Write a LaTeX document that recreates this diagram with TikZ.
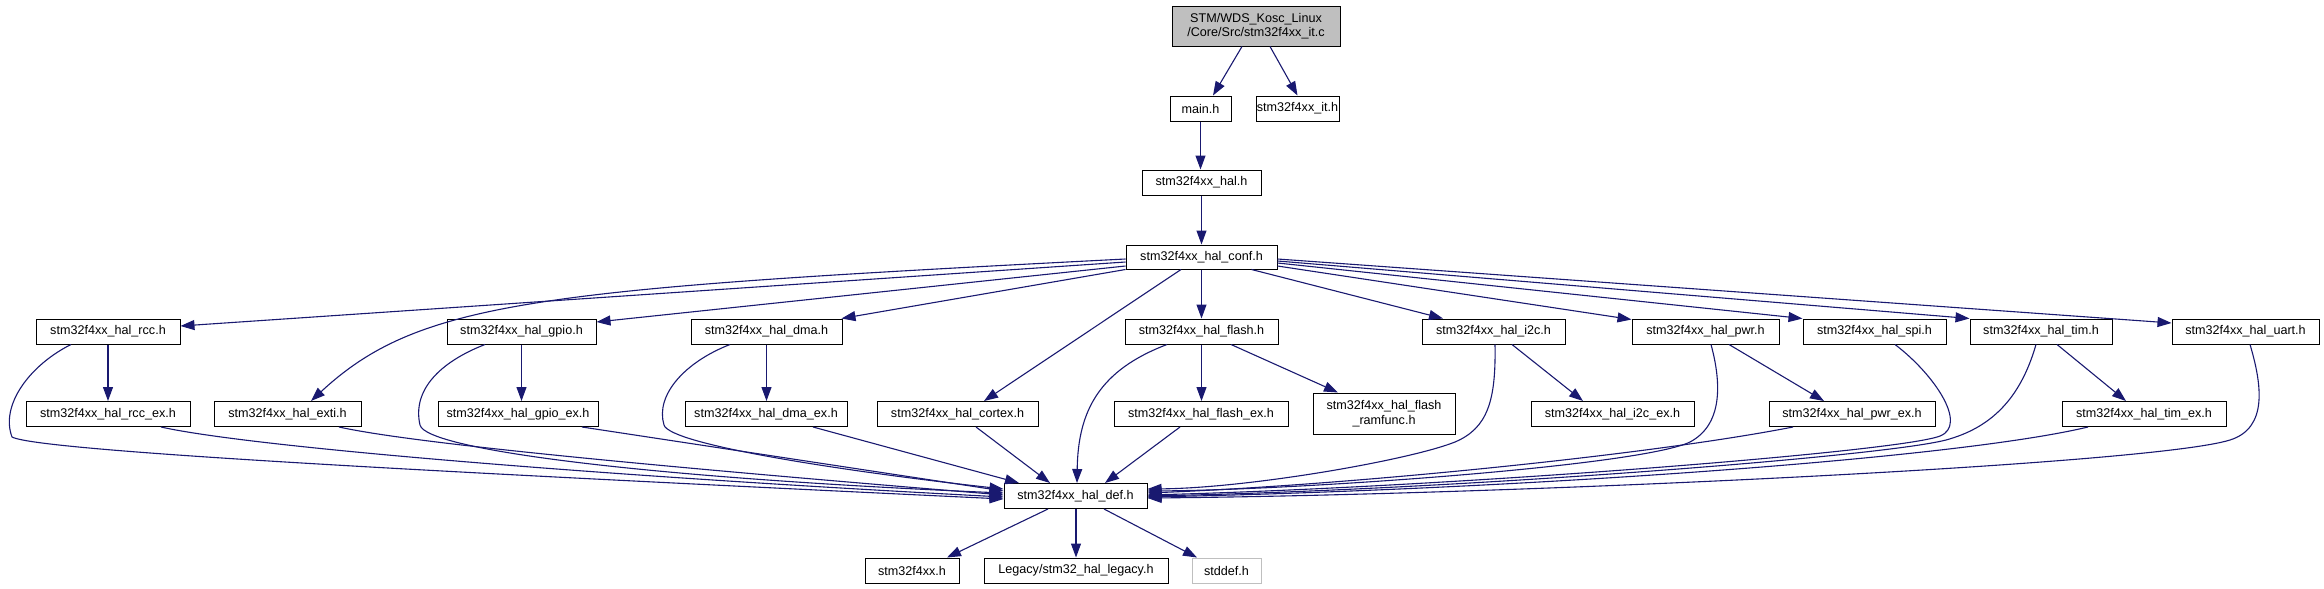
\documentclass[tikz,border=0pt]{standalone}
\usepackage{fontspec}
\setmainfont{Liberation Sans}
\usetikzlibrary{arrows.meta,calc}
\definecolor{edgec}{HTML}{191970}
\definecolor{graybg}{HTML}{BFBFBF}
\begin{document}
\begin{tikzpicture}[x=1pt,y=-1pt,
 box/.style={draw=black,fill=white,line width=1pt,minimum height=25pt,inner sep=0pt,font=\fontsize{12.6}{14.5}\selectfont,align=center},
 lnk/.style={draw=edgec,line width=1.1pt,-{Triangle[length=14pt,width=10pt]}}]
\useasboundingbox (0,0) rectangle (2324,589);
% nodes
\node[box,fill=graybg,minimum width=168pt,minimum height=40pt] (root) at (1256,26) {STM/WDS\_Kosc\_Linux\\/Core/Src/stm32f4xx\_it.c};
\node[box,minimum width=61pt] (main) at (1200.5,108.5) {main.h};
\node[box,minimum width=83pt] (it) at (1297.5,108.5) {stm32f4xx\_it.h};
\node[box,minimum width=119pt] (hal) at (1201.5,182.5) {stm32f4xx\_hal.h};
\node[box,minimum width=151pt,minimum height=24pt] (conf) at (1201.5,257) {stm32f4xx\_hal\_conf.h};
\node[box,minimum width=144pt] (rcc) at (108,331.5) {stm32f4xx\_hal\_rcc.h};
\node[box,minimum width=149pt] (gpio) at (521.5,331.5) {stm32f4xx\_hal\_gpio.h};
\node[box,minimum width=151pt] (dma) at (766.5,331.5) {stm32f4xx\_hal\_dma.h};
\node[box,minimum width=153pt] (flash) at (1201.5,331.5) {stm32f4xx\_hal\_flash.h};
\node[box,minimum width=143pt] (i2c) at (1493.5,331.5) {stm32f4xx\_hal\_i2c.h};
\node[box,minimum width=147pt] (pwr) at (1705.5,331.5) {stm32f4xx\_hal\_pwr.h};
\node[box,minimum width=143pt] (spi) at (1874.5,331.5) {stm32f4xx\_hal\_spi.h};
\node[box,minimum width=142pt] (tim) at (2041,331.5) {stm32f4xx\_hal\_tim.h};
\node[box,minimum width=147pt] (uart) at (2245.5,331.5) {stm32f4xx\_hal\_uart.h};
\node[box,minimum width=164pt] (rccex) at (108,414) {stm32f4xx\_hal\_rcc\_ex.h};
\node[box,minimum width=147pt] (exti) at (287.5,414) {stm32f4xx\_hal\_exti.h};
\node[box,minimum width=160pt] (gpioex) at (518,414) {stm32f4xx\_hal\_gpio\_ex.h};
\node[box,minimum width=162pt] (dmaex) at (766,414) {stm32f4xx\_hal\_dma\_ex.h};
\node[box,minimum width=161pt] (cortex) at (957.5,414) {stm32f4xx\_hal\_cortex.h};
\node[box,minimum width=174pt] (flashex) at (1201,414) {stm32f4xx\_hal\_flash\_ex.h};
\node[box,minimum width=142pt,minimum height=41pt] (ramfunc) at (1384,413.5) {stm32f4xx\_hal\_flash\\\_ramfunc.h};
\node[box,minimum width=163pt] (i2cex) at (1612.5,414) {stm32f4xx\_hal\_i2c\_ex.h};
\node[box,minimum width=166pt] (pwrex) at (1852,414) {stm32f4xx\_hal\_pwr\_ex.h};
\node[box,minimum width=164pt] (timex) at (2144,414) {stm32f4xx\_hal\_tim\_ex.h};
\node[box,minimum width=143pt] (def) at (1075.5,496) {stm32f4xx\_hal\_def.h};
\node[box,minimum width=94pt] (f4) at (912,570.5) {stm32f4xx.h};
\node[box,minimum width=184pt] (legacy) at (1076,570.5) {Legacy/stm32\_hal\_legacy.h};
\node[box,draw=graybg,minimum width=69pt] (stddef) at (1226.5,570.5) {stddef.h};
% top edges
\draw[lnk] ($(root.south)+(-14,0)$) -- ($(main.north)+(12.5,0)$);
\draw[lnk] ($(root.south)+(14,0)$) -- (it.north);
\draw[lnk] (main.south) -- (main.south |- hal.north);
\draw[lnk] (hal.south) -- (hal.south |- conf.north);
% conf edges
\draw[lnk] ($(conf.west)+(0,5)$) -- ($(rcc.east)+(0,-5.5)$);
\draw[lnk] ($(conf.west)+(0,2)$) .. controls (540,289) and (420,300) .. ($(exti.north)+(23.5,0)$);
\draw[lnk] ($(conf.west)+(0,9)$) -- ($(gpio.east)+(0,-9.5)$);
\draw[lnk] (conf.south west) -- ($(dma.north east)+(-1,0)$);
\draw[lnk] ($(conf.south)+(-20.5,0)$) -- ($(cortex.north)+(26.5,0)$);
\draw[lnk] (conf.south) -- (conf.south |- flash.north);
\draw[lnk] ($(conf.south)+(50,0)$) -- ($(i2c.north)+(-50.5,0)$);
\draw[lnk] ($(conf.east)+(0,9)$) -- ($(pwr.north west)+(0,1)$);
\draw[lnk] ($(conf.east)+(0,6)$) -- (spi.north west);
\draw[lnk] ($(conf.east)+(0,4)$) -- (tim.north west);
\draw[lnk] ($(conf.east)+(0,2)$) -- ($(uart.west)+(0,-8.5)$);
% row 3 -> row 4
\draw[lnk] (rcc.south) -- (rcc.south |- rccex.north);
\draw[lnk] (gpio.south) -- (gpio.south |- gpioex.north);
\draw[lnk] (dma.south) -- (dma.south |- dmaex.north);
\draw[lnk] (flash.south) -- (flash.south |- flashex.north);
\draw[lnk] ($(flash.south)+(29.5,0)$) -- ($(ramfunc.north)+(-46,0)$);
\draw[lnk] ($(i2c.south)+(18.5,0)$) -- ($(i2cex.north)+(-29.5,0)$);
\draw[lnk] ($(pwr.south)+(23.5,0)$) -- ($(pwrex.north)+(-28,0)$);
\draw[lnk] ($(tim.south)+(16,0)$) -- ($(timex.north)+(-18,0)$);
% into def from left
\draw[lnk] ($(rcc.south)+(-37,0)$) .. controls (30,365) and (0,405) .. (12,437) .. controls (40,452) and (500,475) .. ($(def.west)+(0,3)$);
\draw[lnk] ($(rccex.south)+(53,0)$) .. controls (250,447) and (600,476) .. ($(def.west)+(0,1)$);
\draw[lnk] ($(exti.south)+(51.5,0)$) .. controls (420,445) and (700,470) .. ($(def.west)+(0,-1)$);
\draw[lnk] ($(gpio.south)+(-36.5,0)$) .. controls (440,362) and (412,390) .. (420,425) .. controls (426,450) and (650,478) .. ($(def.west)+(0,-3)$);
\draw[lnk] ($(gpioex.south)+(64,0)$) -- ($(def.west)+(0,-5)$);
\draw[lnk] ($(dma.south)+(-36.5,0)$) .. controls (685,362) and (655,395) .. (664,425) .. controls (670,445) and (850,472) .. ($(def.west)+(0,-7)$);
% into def from top
\draw[lnk] ($(dmaex.south)+(47,0)$) -- ($(def.north)+(-56.5,0)$);
\draw[lnk] ($(cortex.south)+(18.5,0)$) -- ($(def.north)+(-25.5,0)$);
\draw[lnk] ($(flash.south)+(-34.5,0)$) .. controls (1100,370) and (1078,410) .. ($(def.north)+(1.5,0)$);
\draw[lnk] ($(flashex.south)+(-21,0)$) -- ($(def.north)+(29.5,0)$);
% into def from right
\draw[lnk] ($(i2c.south)+(1.5,0)$) .. controls (1496,400) and (1488,428) .. (1455,442) .. controls (1410,460) and (1250,488) .. ($(def.east)+(0,-7)$);
\draw[lnk] ($(pwr.south)+(5.5,0)$) .. controls (1722,385) and (1722,425) .. (1690,442) .. controls (1640,466) and (1300,490) .. ($(def.east)+(0,-5)$);
\draw[lnk] ($(pwrex.south)+(-59,0)$) .. controls (1650,455) and (1350,485) .. ($(def.east)+(0,-3)$);
\draw[lnk] ($(spi.south)+(20.5,0)$) .. controls (1935,375) and (1968,425) .. (1940,436) .. controls (1900,452) and (1450,487) .. ($(def.east)+(0,-1)$);
\draw[lnk] ($(tim.south)+(-5,0)$) .. controls (2020,400) and (1990,428) .. (1946,440) .. controls (1880,457) and (1450,490) .. (def.east);
\draw[lnk] ($(timex.south)+(-56,0)$) .. controls (1950,460) and (1500,490) .. ($(def.east)+(0,1)$);
\draw[lnk] ($(uart.south)+(4.5,0)$) .. controls (2262,385) and (2268,428) .. (2230,440) .. controls (2150,465) and (1500,495) .. ($(def.east)+(0,2)$);
% def children
\draw[lnk] ($(def.south)+(-27.5,0)$) -- ($(f4.north)+(35,0)$);
\draw[lnk] (legacy.north |- def.south) -- (legacy.north);
\draw[lnk] ($(def.south)+(28.5,0)$) -- ($(stddef.north)+(-29.5,0)$);
\end{tikzpicture}
\end{document}
